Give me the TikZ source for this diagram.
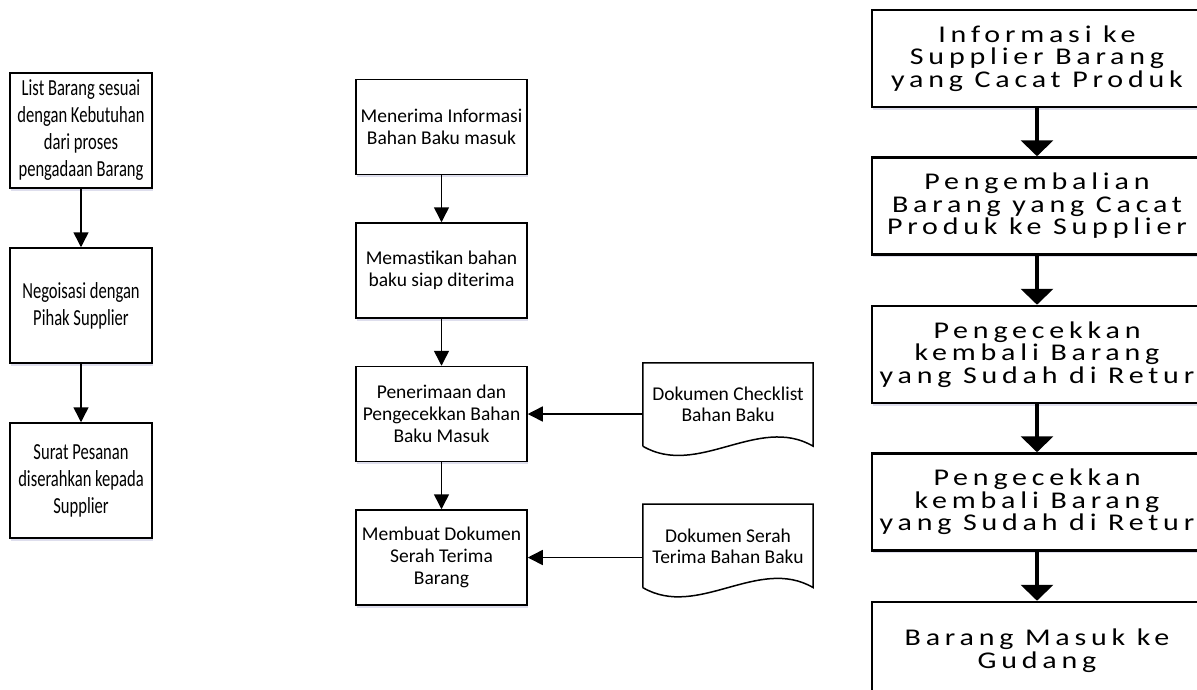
\documentclass[tikz,border=0pt]{standalone}
\usepackage{fontspec}
\setmainfont{Carlito}
\newfontfamily\sempit{Carlito}[FakeStretch=0.72]
\newfontfamily\lebar{Carlito}[FakeStretch=1.25, LetterSpace=20]
\usetikzlibrary{arrows.meta, positioning, shadows}

\begin{document}
\begin{tikzpicture}[x=1pt, y=-1pt,
    box/.style={rectangle, draw, line width=1.5pt, fill=white, align=center, inner sep=2pt,
      drop shadow={shadow xshift=1pt, shadow yshift=-2.5pt, fill=blue!30!gray, opacity=0.2}},
    listbox/.style={box, minimum width=142pt, minimum height=115pt,
      font=\sempit\fontsize{23}{27}\selectfont},
    mbox/.style={box, minimum width=171pt, minimum height=95pt,
      font=\fontsize{19.5}{22}\selectfont},
    dokumen/.style={rectangle, minimum width=170pt, minimum height=83pt, align=center,
      font=\fontsize{19.5}{21}\selectfont},
    retur/.style={box, line width=2.5pt, minimum width=330pt, minimum height=97pt,
      font=\lebar\fontsize{24}{22.5}\selectfont},
    arrow/.style={line width=1.5pt, -{Triangle[length=15pt, width=15pt]}},
    tebal/.style={line width=4pt, -{Triangle[length=16pt, width=32pt]}}
]
\useasboundingbox (0,0) rectangle (1197,689);
\clip (0,0) rectangle (1197,689);

% kiri: pemesanan
\node[listbox] (list) at (81,130.5) {List Barang sesuai\\dengan Kebutuhan\\dari proses\\pengadaan Barang};
\node[listbox, below=58.5pt of list] (nego)  {Negoisasi dengan\\Pihak Supplier};
\node[listbox, below=58.5pt of nego] (surat) {Surat Pesanan\\diserahkan kepada\\Supplier};
\draw[arrow] (list) -- (nego);
\draw[arrow] (nego) -- (surat);

% tengah: penerimaan bahan baku
\node[mbox] (terima) at (441.5,127) {Menerima Informasi\\Bahan Baku masuk};
\node[mbox, below=47pt of terima]   (pastikan) {Memastikan bahan\\baku siap diterima};
\node[mbox, below=47pt of pastikan] (cek)      {Penerimaan dan\\Pengecekkan Bahan\\Baku Masuk};
\node[mbox, below=47pt of cek]      (serah)    {Membuat Dokumen\\Serah Terima\\Barang};
\draw[arrow] (terima)   -- (pastikan);
\draw[arrow] (pastikan) -- (cek);
\draw[arrow] (cek)      -- (serah);

% dokumen
\node[dokumen] (cekdok) at (728,404.5) {Dokumen Checklist\\Bahan Baku};
\node[dokumen, below=58pt of cekdok] (serahdok) {Dokumen Serah\\Terima Bahan Baku};
\draw[line width=1.5pt] (cekdok.south west) -- (cekdok.north west) -- (cekdok.north east) -- (cekdok.south east)
  .. controls ([xshift=-55pt, yshift=32pt]cekdok.south east) and ([xshift=55pt, yshift=-32pt]cekdok.south west) .. (cekdok.south west);
\draw[line width=1.5pt] (serahdok.south west) -- (serahdok.north west) -- (serahdok.north east) -- (serahdok.south east)
  .. controls ([xshift=-55pt, yshift=32pt]serahdok.south east) and ([xshift=55pt, yshift=-32pt]serahdok.south west) .. (serahdok.south west);
\draw[arrow] (cek.east -| cekdok.west)     -- (cek.east);
\draw[arrow] (serah.east -| serahdok.west) -- (serah.east);

% kanan: retur barang cacat
\node[retur] (info) at (1037,58.5) {Informasi ke\\Supplier Barang\\yang Cacat Produk};
\node[retur, below=48pt of info]    (kembali) {Pengembalian\\Barang yang Cacat\\Produk ke Supplier};
\node[retur, below=49pt of kembali] (cekA)    {Pengecekkan\\kembali Barang\\yang Sudah di Retur};
\node[retur, below=48pt of cekA]    (cekB)    {Pengecekkan\\kembali Barang\\yang Sudah di Retur};
\node[retur, below=49pt of cekB]    (gudang)  {Barang Masuk ke\\Gudang};
\draw[tebal] (info)    -- (kembali);
\draw[tebal] (kembali) -- (cekA);
\draw[tebal] (cekA)    -- (cekB);
\draw[tebal] (cekB)    -- (gudang);
\end{tikzpicture}
\end{document}
